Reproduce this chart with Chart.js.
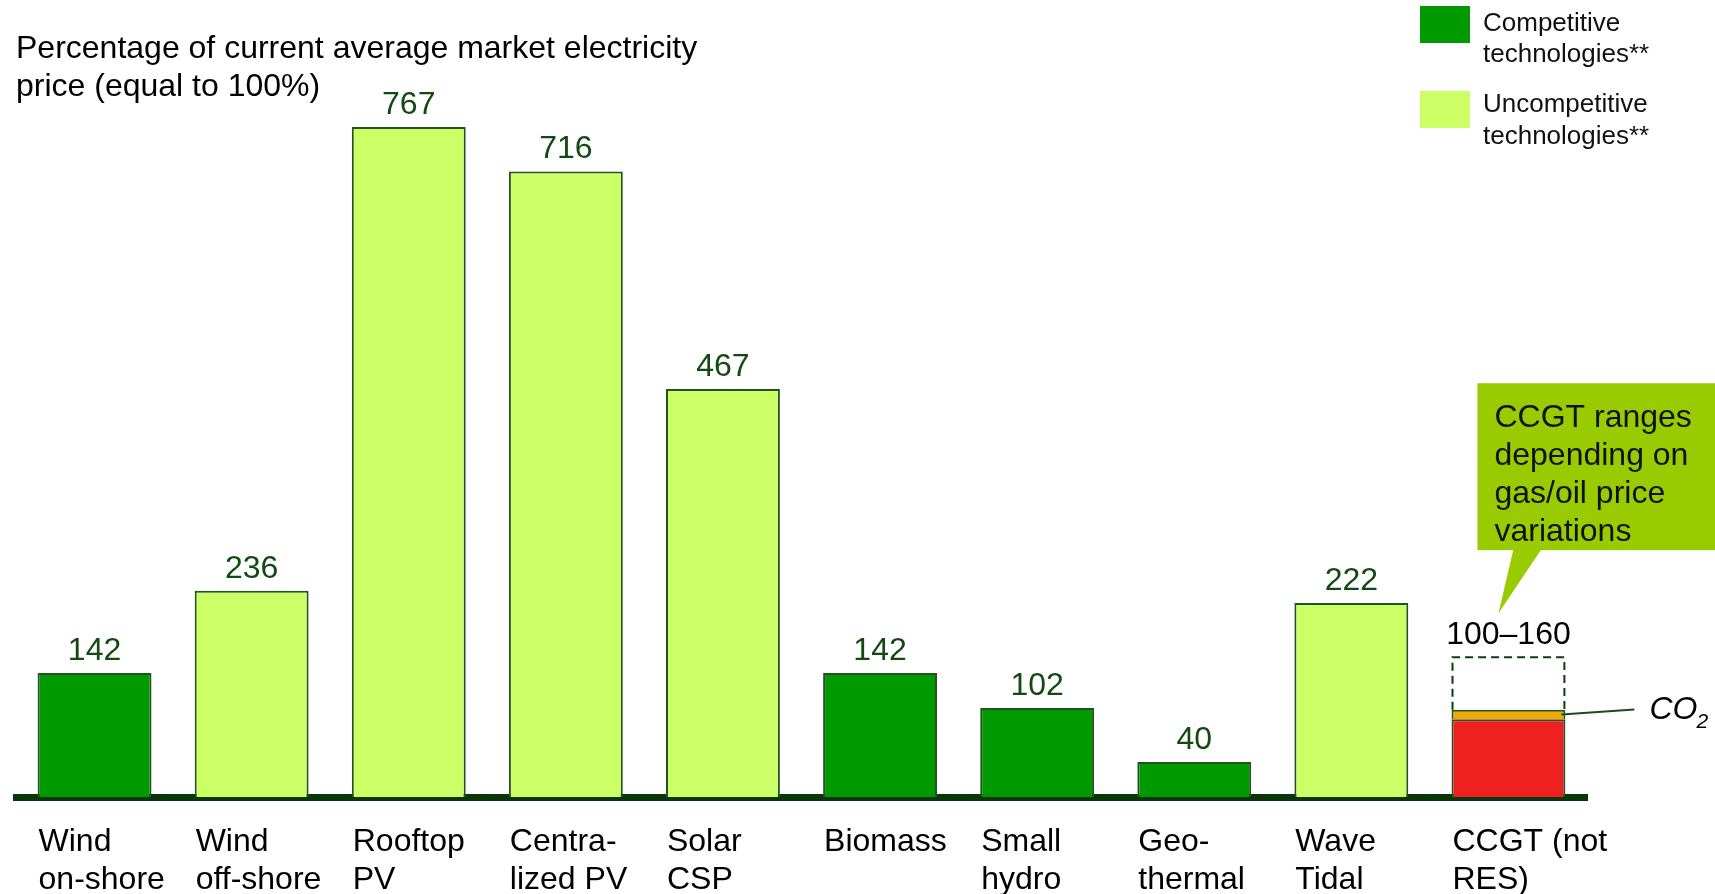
<!DOCTYPE html>
<html>
<head>
<meta charset="utf-8">
<script src="https://cdn.jsdelivr.net/npm/chart.js@4.4.1/dist/chart.umd.min.js"></script>
<style>
  html, body { margin: 0; padding: 0; background: #fff; }
  #wrap { width: 1715px; height: 894px; }
</style>
</head>
<body>
<div id="wrap"><canvas id="myChart" width="1715" height="894"></canvas></div>
<script>
/*######################   DATOS   ####################*/
const categories = [
  ['Wind', 'on-shore'], ['Wind', 'off-shore'], ['Rooftop', 'PV'], ['Centra-', 'lized PV'],
  ['Solar', 'CSP'], ['Biomass'], ['Small', 'hydro'], ['Geo-', 'thermal'], ['Wave', 'Tidal'],
  ['CCGT (not', 'RES)']
];
const values = [142, 236, 767, 716, 467, 142, 102, 40, 222, 89];   /* CCGT: parte sin CO2 */
const competitive = [true, false, false, false, false, true, true, true, false, null];
const co2Adder = [null, null, null, null, null, null, null, null, null, [89, 100]];
const ccgtRange = [null, null, null, null, null, null, null, null, null, [100, 160]];
const valueLabels = ['142', '236', '767', '716', '467', '142', '102', '40', '222', '100–160'];
const legendItems = [
  { color: '#009900', lines: ['Competitive', 'technologies**'] },
  { color: '#CCFF66', lines: ['Uncompetitive', 'technologies**'] }
];
const calloutLines = ['CCGT ranges', 'depending on', 'gas/oil price', 'variations'];

const FONT = "Arial, 'Liberation Sans', sans-serif";
Chart.defaults.font.family = FONT;

let barColor = (i) => {
  if (competitive[i] === true) return '#009900';
  if (competitive[i] === false) return '#CCFF66';
  return '#EE2020';
};

/*######################   EXTRAS (etiquetas, leyenda, globo)   ####################*/
const extras = {
  id: 'extras',
  afterDatasetsDraw(chart) {
    const ctx = chart.ctx;
    const main = chart.getDatasetMeta(0).data;
    const co2 = chart.getDatasetMeta(1).data[9];
    const range = chart.getDatasetMeta(2).data[9];

    ctx.save();

    /* caja punteada del rango CCGT */
    const l = range.x - range.width / 2, r = range.x + range.width / 2;
    ctx.strokeStyle = '#0d3d0d';
    ctx.lineWidth = 2;
    ctx.setLineDash([8, 5]);
    ctx.beginPath();
    ctx.moveTo(l + 1, range.base);
    ctx.lineTo(l + 1, range.y);
    ctx.lineTo(r - 1, range.y);
    ctx.lineTo(r - 1, range.base);
    ctx.stroke();
    ctx.setLineDash([]);

    /* etiquetas de valor */
    ctx.font = '32px ' + FONT;
    ctx.textAlign = 'center';
    ctx.textBaseline = 'middle';
    for (let i = 0; i < main.length; i++) {
      if (i === 9) {
        ctx.fillStyle = '#000';
        ctx.fillText(valueLabels[i], range.x, range.y - 22);
      } else {
        ctx.fillStyle = '#124a12';
        ctx.fillText(valueLabels[i], main[i].x, main[i].y - 22);
      }
    }

    /* CO2 */
    const cy = (co2.y + co2.base) / 2;
    const cx = co2.x + co2.width / 2 - 4;
    ctx.strokeStyle = '#1f4a1f';
    ctx.lineWidth = 2;
    ctx.beginPath();
    ctx.moveTo(cx, cy);
    ctx.lineTo(cx + 73, cy - 5);
    ctx.stroke();
    ctx.fillStyle = '#000';
    ctx.textAlign = 'left';
    ctx.font = 'italic 32px ' + FONT;
    ctx.fillText('CO', cx + 88, cy - 4);
    ctx.font = 'italic 21px ' + FONT;
    ctx.fillText('2', cx + 135, cy + 8);

    /* globo */
    const tipX = range.x - 10, tipY = range.y - 44;
    const boxL = range.x - 31, boxT = range.y - 274, boxB = range.y - 107;
    ctx.fillStyle = '#99CC00';
    ctx.fillRect(boxL, boxT, chart.width - boxL, boxB - boxT);
    ctx.beginPath();
    ctx.moveTo(range.x + 5, boxB - 1);
    ctx.lineTo(range.x + 33, boxB - 1);
    ctx.lineTo(tipX, tipY);
    ctx.closePath();
    ctx.fill();
    ctx.fillStyle = '#111';
    ctx.font = '32px ' + FONT;
    calloutLines.forEach((t, k) => ctx.fillText(t, boxL + 17, boxT + 35 + k * 38));

    /* leyenda */
    ctx.font = '26px ' + FONT;
    const textY = [[24, 55], [105, 137]];
    legendItems.forEach((it, k) => {
      const y0 = 6 + k * 85;
      ctx.fillStyle = it.color;
      ctx.fillRect(1420, y0, 50, 37);
      ctx.fillStyle = '#111';
      it.lines.forEach((t, j) => ctx.fillText(t, 1483, textY[k][j]));
    });

    ctx.restore();
  }
};

/*######################   GRAFICO   ####################*/
const ctx = document.getElementById('myChart');
const chart = new Chart(ctx, {
  type: 'bar',
  data: {
    labels: categories,
    datasets: [
      {
        data: values,
        backgroundColor: values.map((v, i) => barColor(i)),
        borderColor: '#235223',
        borderWidth: 2
      },
      {
        data: co2Adder,
        backgroundColor: '#F5A800',
        borderColor: '#235223',
        borderWidth: 2
      },
      {
        data: ccgtRange,
        backgroundColor: 'rgba(0,0,0,0)',
        borderWidth: 0
      }
    ]
  },
  options: {
    responsive: false,
    animation: false,
    layout: { padding: { left: 16, right: 128, top: 0, bottom: 0 } },
    datasets: { bar: { grouped: false, categoryPercentage: 1, barPercentage: 0.725 } },
    plugins: {
      legend: { display: false },
      tooltip: { enabled: false },
      title: {
        display: true,
        text: ['Percentage of current average market electricity', 'price (equal to 100%)'],
        align: 'start',
        color: '#000',
        font: { size: 32, weight: 'normal', lineHeight: 1.2 },
        padding: { top: 30, bottom: 0 }
      }
    },
    scales: {
      x: {
        grid: { display: false, drawTicks: false },
        border: { display: true, color: '#0a360a', width: 7 },
        ticks: {
          align: 'start',
          labelOffset: -56,
          padding: 27,
          autoSkip: false,
          maxRotation: 0,
          minRotation: 0,
          color: '#000',
          font: { size: 32, lineHeight: 1.16 }
        },
        afterFit: (scale) => { scale.height = 97; }
      },
      y: { display: false, min: 0, max: 790 }
    }
  },
  plugins: [extras]
});
</script>
</body>
</html>
